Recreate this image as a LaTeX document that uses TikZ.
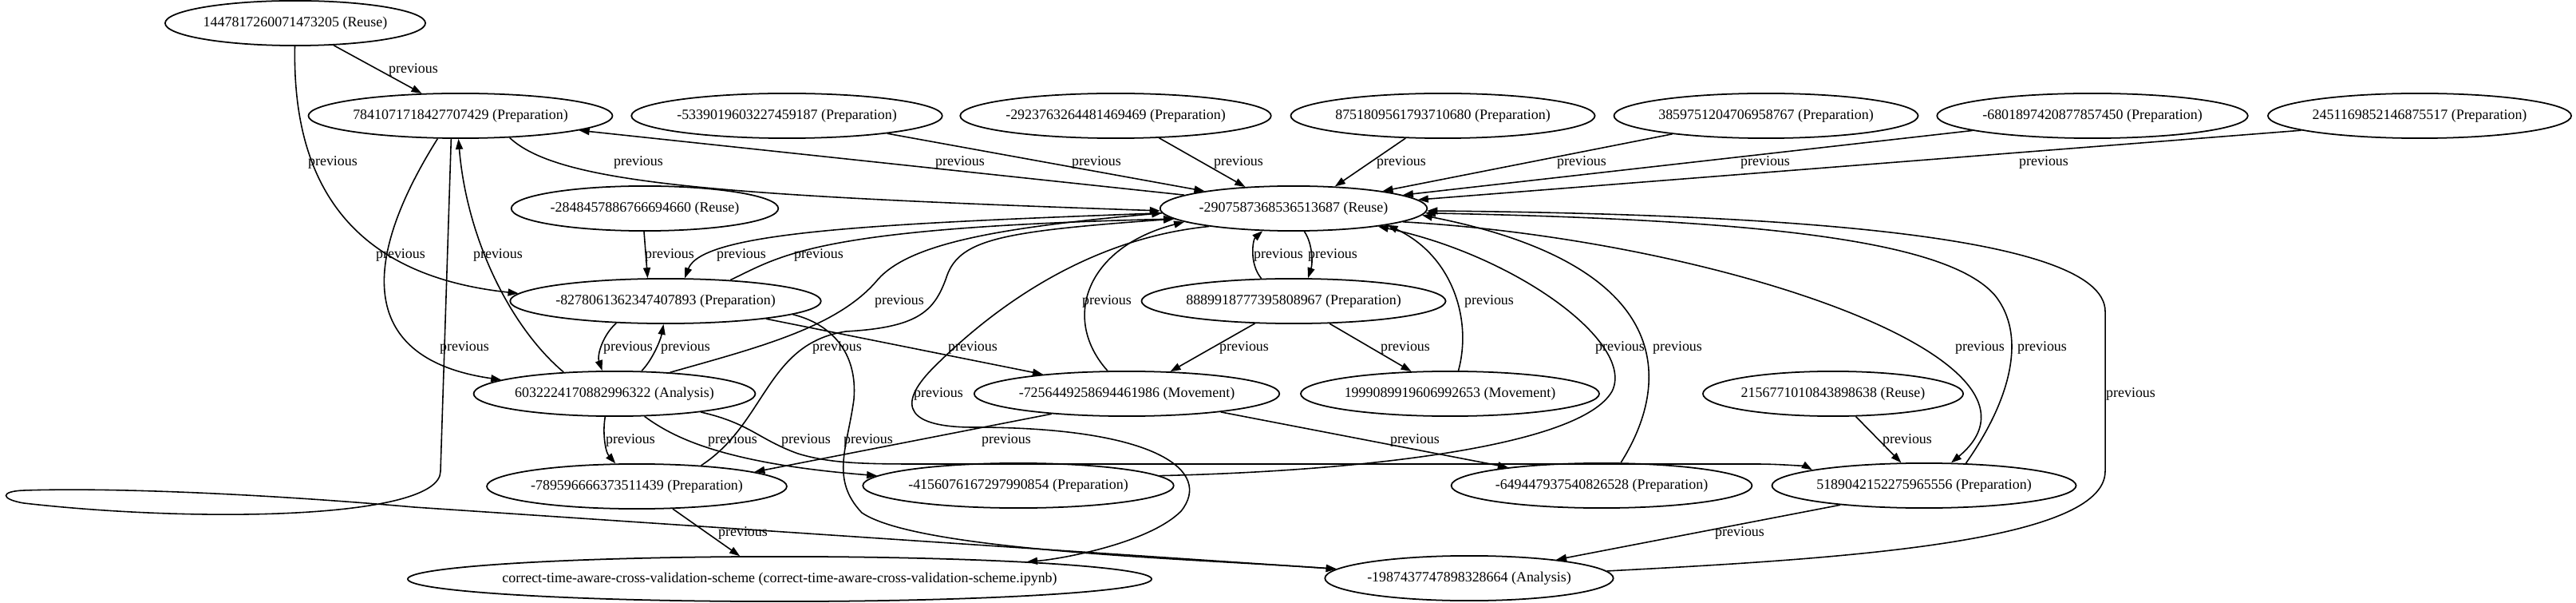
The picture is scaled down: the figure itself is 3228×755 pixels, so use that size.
\documentclass[tikz,border=0pt]{standalone}
\usepackage{fontspec}
\setmainfont{Liberation Serif}
\usetikzlibrary{shapes.geometric,arrows.meta}

\begin{document}
\begin{tikzpicture}[x=0.01cm, y=-0.01cm,
    cellStyle/.style={draw, ellipse, line width=0.5pt, inner xsep=0pt, minimum height=0.48cm, font=\fontsize{5.1}{6}\selectfont},
    tagStyle/.style={inner sep=0pt, font=\fontsize{5.1}{6}\selectfont},
    linkStyle/.style={->, >={Triangle[length=1.3mm, width=0.9mm]}, line width=0.45pt}]
    \useasboundingbox (0,0) rectangle (3228,755);

    % cells of the notebook
    \node[cellStyle] (r1447) at (370,29) {1447817260071473205 (Reuse)};
    \node[cellStyle] (p7841) at (577,145) {7841071718427707429 (Preparation)};
    \node[cellStyle] (p5339) at (986,145) {-5339019603227459187 (Preparation)};
    \node[cellStyle] (p2923) at (1398,145) {-2923763264481469469 (Preparation)};
    \node[cellStyle] (p8751) at (1808,145) {8751809561793710680 (Preparation)};
    \node[cellStyle] (p3859) at (2213,145) {3859751204706958767 (Preparation)};
    \node[cellStyle] (p6801) at (2622,145) {-6801897420877857450 (Preparation)};
    \node[cellStyle] (p2451) at (3032,145) {2451169852146875517 (Preparation)};
    \node[cellStyle] (r2848) at (808,261) {-2848457886766694660 (Reuse)};
    \node[cellStyle] (r2907) at (1621,261) {-2907587368536513687 (Reuse)};
    \node[cellStyle] (p8278) at (834,377) {-8278061362347407893 (Preparation)};
    \node[cellStyle] (p8889) at (1621,377) {8889918777395808967 (Preparation)};
    \node[cellStyle] (a6032) at (770,493) {6032224170882996322 (Analysis)};
    \node[cellStyle] (m7256) at (1412,493) {-7256449258694461986 (Movement)};
    \node[cellStyle] (m1999) at (1817,493) {1999089919606992653 (Movement)};
    \node[cellStyle] (r2156) at (2297,493) {2156771010843898638 (Reuse)};
    \node[cellStyle] (p7895) at (798,609) {-789596666373511439 (Preparation)};
    \node[cellStyle] (p4156) at (1276,608) {-4156076167297990854 (Preparation)};
    \node[cellStyle] (p6494) at (2007,608) {-649447937540826528 (Preparation)};
    \node[cellStyle] (p5189) at (2411,608) {5189042152275965556 (Preparation)};
    \node[cellStyle, inner xsep=-0.18cm] (nb) at (977,725) {correct-time-aware-cross-validation-scheme (correct-time-aware-cross-validation-scheme.ipynb)};
    \node[cellStyle] (a1987) at (1841,724) {-1987437747898328664 (Analysis)};

    \draw[linkStyle] (r1447.-30) -- (p7841.150) node[tagStyle] at (518,87) {previous};
    \draw[linkStyle] (r1447.-91) .. controls (366,230) and (440,345) .. (p8278.177) node[tagStyle] at (417,203) {previous};
    \draw[linkStyle] (p7841.-24) .. controls (700,230) and (900,245) .. (r2907.181) node[tagStyle] at (800,203) {previous};
    \draw[linkStyle] (r2907.173) -- (p7841.-7) node[tagStyle] at (1203,203) {previous};
    \draw[linkStyle] (p5339.-10) -- (r2907.169) node[tagStyle] at (1374,203) {previous};
    \draw[linkStyle] (p2923.-27) -- (r2907.156) node[tagStyle] at (1552,203) {previous};
    \draw[linkStyle] (p8751.211) -- (r2907.28) node[tagStyle] at (1756,203) {previous};
    \draw[linkStyle] (p3859.191) -- (r2907.11) node[tagStyle] at (1982,203) {previous};
    \draw[linkStyle] (p6801.187) -- (r2907.7) node[tagStyle] at (2212,203) {previous};
    \draw[linkStyle] (p2451.187) -- (r2907.4) node[tagStyle] at (2561,203) {previous};
    \draw[linkStyle] (p7841.225) .. controls (450,330) and (450,450) .. (a6032.173) node[tagStyle] at (502,319) {previous};
    \draw[linkStyle] (a6032.157) .. controls (640,410) and (585,300) .. (p7841.265) node[tagStyle] at (624,319) {previous};
    \draw[linkStyle] (r2848.-92) -- (p8278.128) node[tagStyle] at (839,319) {previous};
    \draw[linkStyle] (r2907.182) .. controls (1100,280) and (880,290) .. (p8278.50) node[tagStyle] at (929,319) {previous};
    \draw[linkStyle] (p8278.18) .. controls (980,320) and (1020,285) .. (r2907.185) node[tagStyle] at (1026,319) {previous};
    \draw[linkStyle] (p8889.145) .. controls (1565,330) and (1570,300) .. (r2907.216) node[tagStyle] at (1602,319) {previous};
    \draw[linkStyle] (r2907.-65) .. controls (1645,305) and (1645,330) .. (p8889.58) node[tagStyle] at (1670,319) {previous};
    \draw[linkStyle] (p7841.-112) -- (552,590) .. controls (552,650) and (250,655) .. (30,630) .. controls (0,625) and (0,615) .. (30,614) .. controls (150,610) and (350,620) .. (519,635) -- (a1987.176) node[tagStyle] at (582,435) {previous};
    \draw[linkStyle] (p8278.204) .. controls (755,420) and (748,445) .. (a6032.118) node[tagStyle] at (787,435) {previous};
    \draw[linkStyle] (a6032.40) .. controls (818,450) and (828,425) .. (p8278.265) node[tagStyle] at (859,435) {previous};
    \draw[linkStyle] (a6032.21) .. controls (950,435) and (1050,410) .. (1100,350) .. controls (1140,305) and (1250,285) .. (r2907.182) node[tagStyle] at (1127,377) {previous};
    \draw[linkStyle] (p8278.-10) -- (m7256.167) node[tagStyle] at (1219,435) {previous};
    \draw[linkStyle] (p7895.18) .. controls (960,530) and (960,430) .. (1060,415) .. controls (1150,410) and (1170,390) .. (1185,350) .. controls (1200,300) and (1250,290) .. (r2907.185) node[tagStyle] at (1049,435) {previous};
    \draw[linkStyle] (m7256.130) .. controls (1330,400) and (1360,310) .. (r2907.187) node[tagStyle] at (1387,377) {previous};
    \draw[linkStyle] (p8889.210) -- (m7256.27) node[tagStyle] at (1559,435) {previous};
    \draw[linkStyle] (p8889.-32) -- (m1999.150) node[tagStyle] at (1761,435) {previous};
    \draw[linkStyle] (m1999.70) .. controls (1845,400) and (1820,320) .. (r2907.-10) node[tagStyle] at (1866,377) {previous};
    \draw[linkStyle] (p4156.4) .. controls (1700,590) and (1980,560) .. (2020,490) .. controls (2050,430) and (1900,320) .. (r2907.-12) node[tagStyle] at (2030,435) {previous};
    \draw[linkStyle] (p6494.50) .. controls (2100,470) and (2090,330) .. (r2907.-3) node[tagStyle] at (2102,435) {previous};
    \draw[linkStyle] (r2907.-7) .. controls (2150,300) and (2600,450) .. (p5189.40) node[tagStyle] at (2481,435) {previous};
    \draw[linkStyle] (p5189.28) .. controls (2520,500) and (2540,420) .. (2500,370) .. controls (2440,300) and (2200,275) .. (r2907.-2) node[tagStyle] at (2559,435) {previous};
    \draw[linkStyle] (a1987.3) .. controls (2300,700) and (2638,680) .. (2638,590) -- (2638,390) .. controls (2638,290) and (2200,268) .. (r2907.-1) node[tagStyle] at (2670,493) {previous};
    \draw[linkStyle] (r2907.192) .. controls (1350,300) and (1230,400) .. (1170,460) .. controls (1120,510) and (1140,535) .. (1220,535) .. controls (1450,535) and (1520,590) .. (1480,640) .. controls (1440,680) and (1330,700) .. (nb.4) node[tagStyle] at (1176,493) {previous};
    \draw[linkStyle] (a6032.-112) .. controls (755,540) and (758,565) .. (p7895.133) node[tagStyle] at (790,551) {previous};
    \draw[linkStyle] (a6032.-37) .. controls (840,545) and (900,580) .. (p4156.176) node[tagStyle] at (918,551) {previous};
    \draw[linkStyle] (a6032.-12) .. controls (940,530) and (950,550) .. (1000,568) .. controls (1040,580) and (1080,581) .. (1150,581) -- (2200,581) .. controls (2240,581) and (2265,585) .. (p5189.172) node[tagStyle] at (1010,551) {previous};
    \draw[linkStyle] (p8278.-6) .. controls (1040,405) and (1075,440) .. (1070,500) .. controls (1062,560) and (1040,600) .. (1080,642) .. controls (1150,690) and (1500,700) .. (a1987.176) node[tagStyle] at (1088,551) {previous};
    \draw[linkStyle] (m7256.195) -- (p7895.7) node[tagStyle] at (1261,551) {previous};
    \draw[linkStyle] (m7256.-11) -- (p6494.169) node[tagStyle] at (1773,551) {previous};
    \draw[linkStyle] (r2156.-45) -- (p5189.135) node[tagStyle] at (2390,551) {previous};
    \draw[linkStyle] (p7895.-32) -- (nb.150) node[tagStyle] at (931,667) {previous};
    \draw[linkStyle] (p5189.193) -- (a1987.12) node[tagStyle] at (2180,667) {previous};
\end{tikzpicture}
\end{document}
